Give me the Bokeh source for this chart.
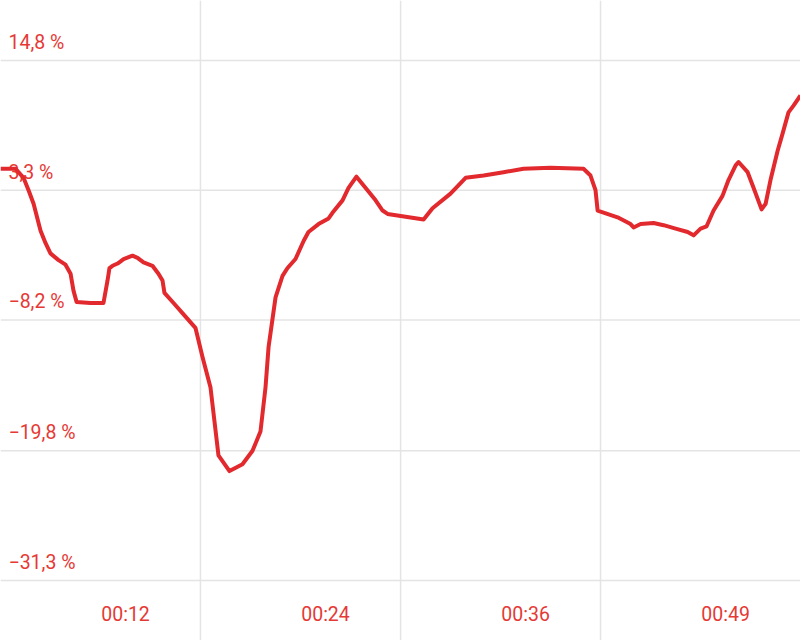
from bokeh.plotting import figure
from bokeh.models import Span, ColumnDataSource
from bokeh.core.properties import value
from bokeh.embed import file_html
from bokeh.resources import INLINE

# elapsed time (minutes) and change (%)
minutes = [4.29, 5.22, 5.71, 6.02, 6.33, 6.76, 7.07, 7.37, 7.87, 8.30,
           8.61, 8.79, 8.98, 9.84, 10.64, 10.89, 11.01, 11.20, 11.51, 11.88,
           12.43, 12.74, 13.11, 13.66, 14.03, 14.28, 14.40, 14.96, 15.51, 16.31,
           16.75, 17.24, 17.73, 18.41, 19.21, 19.83, 20.32, 20.63, 20.82, 21.25,
           21.68, 21.99, 22.48, 22.98, 23.28, 23.90, 24.52, 24.76, 25.38, 25.75,
           26.24, 26.92, 27.42, 27.85, 28.16, 30.38, 30.93, 32.04, 32.97, 34.08,
           35.31, 36.54, 38.21, 40.24, 40.67, 40.98, 41.11, 42.34, 43.14, 43.33,
           43.76, 44.56, 45.18, 45.92, 46.66, 47.03, 47.46, 47.83, 48.26, 48.81,
           49.18, 49.62, 49.80, 50.36, 50.73, 51.22, 51.47, 51.77, 52.21, 52.51,
           52.88, 53.19, 53.62]
change = [5.2, 5.2, 4.4, 3.3, 2.1, -0.3, -1.4, -2.3, -2.9, -3.3,
          -4.1, -5.6, -6.6, -6.7, -6.7, -4.7, -3.6, -3.4, -3.2, -2.8,
          -2.5, -2.7, -3.1, -3.4, -4.1, -4.7, -5.8, -6.7, -7.6, -8.9,
          -11.5, -14.2, -20.2, -21.6, -21.0, -19.8, -18.1, -14.2, -10.6, -6.2,
          -4.3, -3.6, -2.8, -1.2, -0.4, 0.3, 0.8, 1.3, 2.4, 3.5,
          4.5, 3.3, 2.4, 1.5, 1.2, 0.7, 1.7, 3.0, 4.4, 4.6,
          4.9, 5.2, 5.3, 5.2, 4.6, 3.3, 1.5, 0.9, 0.3, 0.0,
          0.3, 0.4, 0.2, -0.1, -0.4, -0.7, -0.1, 0.1, 1.5, 2.8,
          4.2, 5.5, 5.8, 4.9, 3.5, 1.6, 2.1, 4.2, 6.8, 8.3,
          10.2, 10.8, 11.7]

y_ticks = [14.8, 3.3, -8.2, -19.8, -31.3]
y_tick_labels = ["14,8 %", "3,3 %", "\u22128,2 %", "\u221219,8 %", "\u221231,3 %"]
x_grid = [16.62, 28.96, 41.29]
x_label_pos = [12.0, 24.33, 36.67, 49.0]
x_labels = ["00:12", "00:24", "00:36", "00:49"]

X0, X1 = 4.29, 53.62
Y0, Y1 = -36.62, 20.12

RED = "#e1292e"
TXT = "#e53935"
GRID = "#e4e4e4"

p = figure(width=800, height=640, output_backend="svg", toolbar_location=None,
           x_range=(X0, X1), y_range=(Y0, Y1),
           x_axis_location=None, y_axis_location=None,
           min_border=0)
p.outline_line_color = None
p.background_fill_color = "white"
p.border_fill_color = "white"
p.xgrid.visible = False
p.ygrid.visible = False

for t in y_ticks:
    p.add_layout(Span(location=t, dimension="width", line_color=GRID,
                      line_width=1.5, level="underlay"))
for t in x_grid:
    p.add_layout(Span(location=t, dimension="height", line_color=GRID,
                      line_width=1.5, level="underlay"))

ysrc = ColumnDataSource(dict(x=[X0] * len(y_ticks), y=y_ticks, t=y_tick_labels))
p.text(x="x", y="y", text="t", source=ysrc, x_offset=8, y_offset=-18,
       text_font=value("Roboto"), text_font_size="19.5px", text_color=TXT,
       text_baseline="alphabetic", text_align="left")

xsrc = ColumnDataSource(dict(x=x_label_pos, y=[Y0] * len(x_labels), t=x_labels))
p.text(x="x", y="y", text="t", source=xsrc, y_offset=-26,
       text_font=value("Roboto"), text_font_size="19.5px", text_color=TXT,
       text_baseline="alphabetic", text_align="center")

p.line(minutes, change, line_color=RED, line_width=4, line_join="round")

open("out.html", "w").write(file_html(p, INLINE))
